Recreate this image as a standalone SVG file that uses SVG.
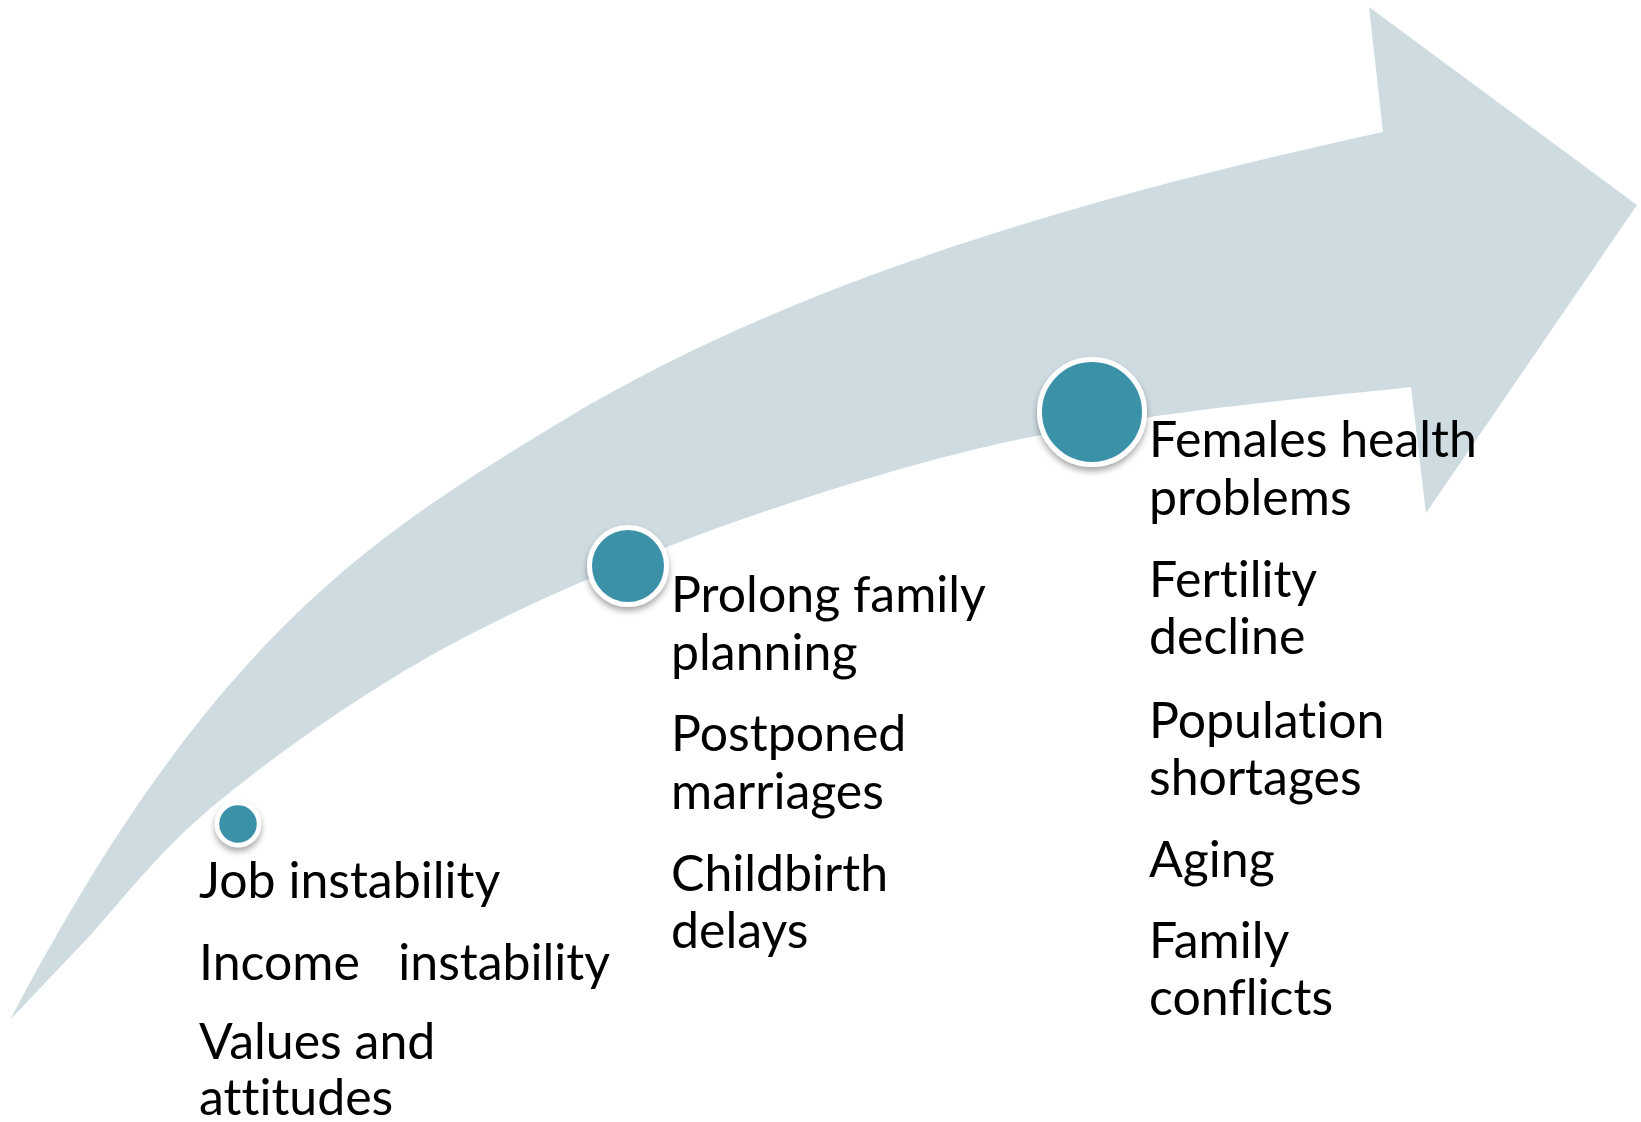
<svg xmlns="http://www.w3.org/2000/svg" width="1641" height="1122" viewBox="0 0 1641 1122">
<defs>
<style>
.arrow{fill:#CEDCE2;}
.dot{fill:#3A91A8;stroke:#FFFFFF;filter:url(#sh);}
.lbl{font-family:Lato,"Open Sans","Liberation Sans",sans-serif;font-size:50px;fill:#000000;font-variant-ligatures:none;font-feature-settings:"liga" 0,"clig" 0;}
</style>
<filter id="sh" x="-50%" y="-50%" width="200%" height="200%">
<feDropShadow dx="0" dy="4" stdDeviation="3" flood-color="#000000" flood-opacity="0.35"/>
</filter>
</defs>
<rect width="1641" height="1122" fill="#FFFFFF"/>
<g id="connectors">
<path class="arrow" d="M10,1020 C210,640 367,538 567,418 C817,268 1133,187 1383,132 L1369,7 L1637,205 L1426,513 L1411,387 C1367.5,392 1229.7,404.8 1150,417 C1070.3,429.2 1013.5,438.3 933,460 C852.5,481.7 752,513.7 667,547 C582,580.3 498.8,616.7 423,660 C347.2,703.3 268.7,759.8 212,807 C155.3,854.2 116.7,907.5 83,943 C49.3,978.5 22.2,1007.2 10,1020 Z"/>
</g>
<g id="node1">
<circle class="dot" cx="238" cy="824" r="21" stroke-width="4.5"/>
<text class="lbl" x="199" y="898">Job instability</text>
<text class="lbl" x="199" y="980" xml:space="preserve">Income   instability</text>
<text class="lbl" x="199" y="1059">Values and</text>
<text class="lbl" x="199" y="1115">attitudes</text>
</g>
<g id="node2">
<circle class="dot" cx="628" cy="566" r="38.5" stroke-width="5"/>
<text class="lbl" x="671" y="612">Prolong family</text>
<text class="lbl" x="671" y="670">planning</text>
<text class="lbl" x="671" y="751">Postponed</text>
<text class="lbl" x="671" y="809">marriages</text>
<text class="lbl" x="671" y="891">Childbirth</text>
<text class="lbl" x="671" y="948">delays</text>
</g>
<g id="node3">
<circle class="dot" cx="1092" cy="412" r="52.5" stroke-width="5"/>
<text class="lbl" x="1149" y="457">Females health</text>
<text class="lbl" x="1149" y="515">problems</text>
<text class="lbl" x="1149" y="597">Fertility</text>
<text class="lbl" x="1149" y="654">decline</text>
<text class="lbl" x="1149" y="738">Population</text>
<text class="lbl" x="1149" y="795">shortages</text>
<text class="lbl" x="1149" y="877">Aging</text>
<text class="lbl" x="1149" y="958">Family</text>
<text class="lbl" x="1149" y="1015">conflicts</text>
</g>
</svg>
